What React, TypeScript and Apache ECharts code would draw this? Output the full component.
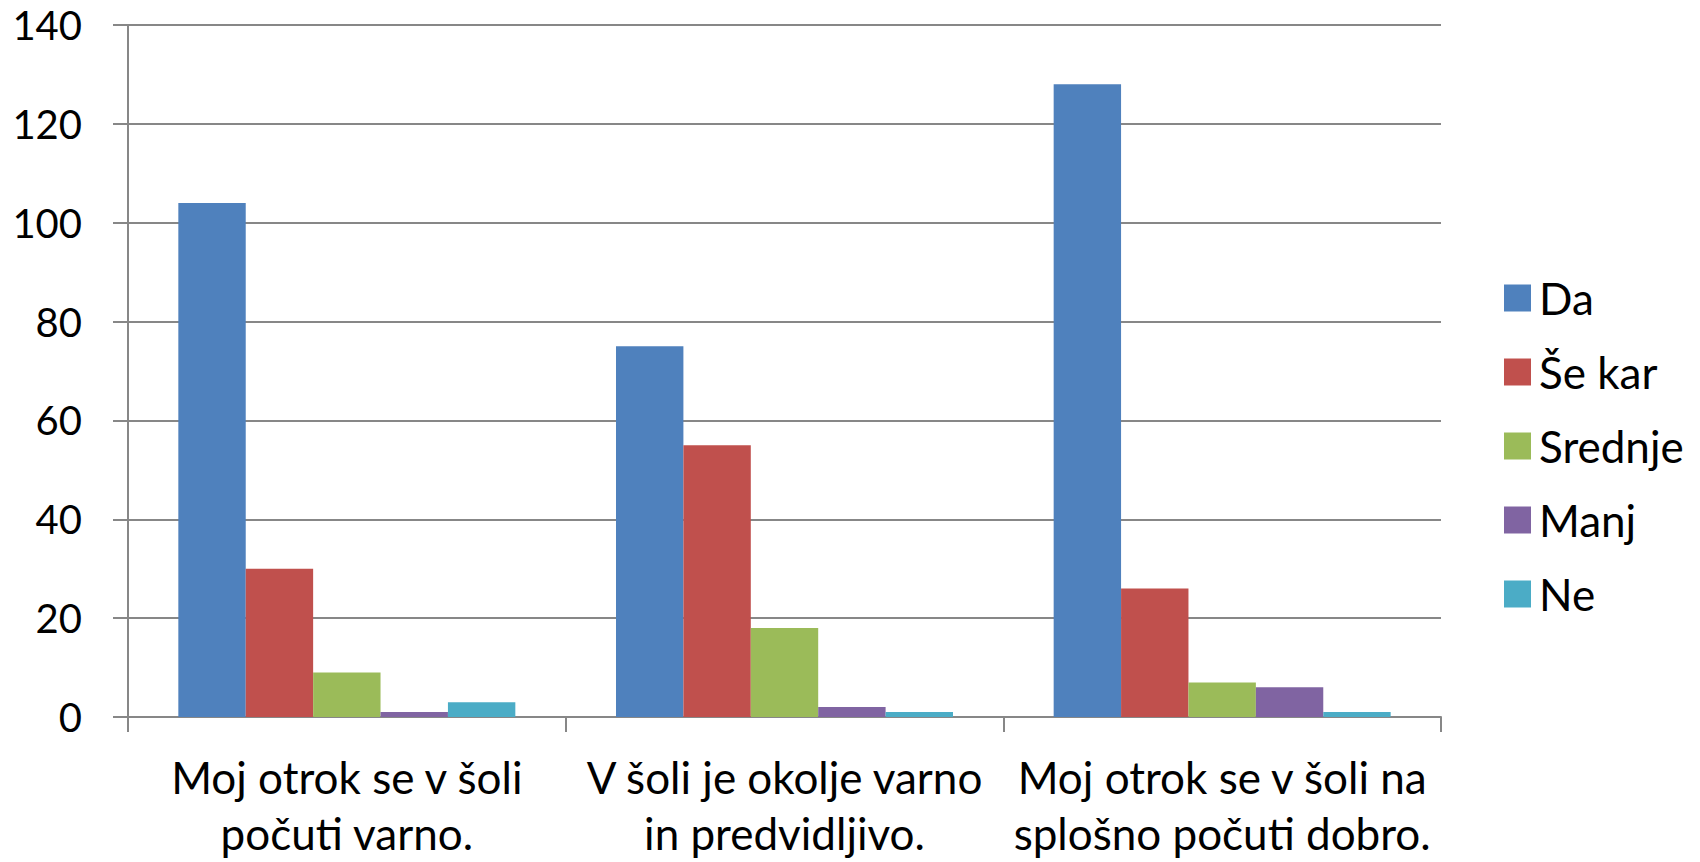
import React, { useEffect, useRef } from "react";
import * as echarts from "echarts";

const categories = [
  "Moj otrok se v šoli\npočuti varno.",
  "V šoli je okolje varno\nin predvidljivo.",
  "Moj otrok se v šoli na\nsplošno počuti dobro.",
];
const seriesNames = ["Da", "Še kar", "Srednje", "Manj", "Ne"];
const da = [104, 75, 128];
const seKar = [30, 55, 26];
const srednje = [9, 18, 7];
const manj = [1, 2, 6];
const ne = [3, 1, 1];
const colors = ["#4F81BD", "#C0504D", "#9BBB59", "#8064A2", "#4BACC6"];

export default function App() {
  const ref = useRef<HTMLDivElement>(null);
  useEffect(() => {
    if (!ref.current) return;
    const chart = echarts.init(ref.current, null, { renderer: "svg" });
    const values = [da, seKar, srednje, manj, ne];
    const font = "Lato";
    chart.setOption({
      animation: false,
      color: colors,
      textStyle: { fontFamily: font },
      grid: {
        left: 128,
        right: 259,
        top: 25,
        bottom: 145,
        containLabel: false,
        outerBoundsMode: "none",
      },
      legend: {
        orient: "vertical",
        left: 1499,
        top: 271,
        itemWidth: 27,
        itemHeight: 27,
        itemGap: 30,
        icon: "rect",
        data: seriesNames,
        textStyle: {
          fontFamily: font,
          fontSize: 44,
          lineHeight: 44,
          color: "#000",
          padding: [0, 0, 0, 3],
        },
      },
      xAxis: {
        type: "category",
        data: categories,
        axisLine: { lineStyle: { color: "#878787", width: 2 } },
        axisTick: { show: true, length: 15, lineStyle: { color: "#878787", width: 2 } },
        axisLabel: {
          interval: 0,
          fontFamily: font,
          fontSize: 44,
          lineHeight: 56,
          color: "#000",
          margin: 32,
          align: "center",
        },
      },
      yAxis: {
        type: "value",
        min: 0,
        max: 140,
        interval: 20,
        axisLine: { show: true, lineStyle: { color: "#878787", width: 2 } },
        axisTick: { show: true, length: 15, lineStyle: { color: "#878787", width: 2 } },
        splitLine: { show: true, lineStyle: { color: "#878787", width: 2 } },
        axisLabel: {
          fontFamily: font,
          fontSize: 40,
          color: "#000",
          margin: 46,
        },
      },
      series: seriesNames.map((name, i) => ({
        name,
        type: "bar",
        data: values[i],
        barGap: "0%",
        barCategoryGap: "23%",
        itemStyle: { color: colors[i] },
      })),
    });
    return () => chart.dispose();
  }, []);
  return (
    <div
      ref={ref}
      style={{ position: "fixed", left: 0, top: 0, width: 1700, height: 862, background: "#fff" }}
    />
  );
}
